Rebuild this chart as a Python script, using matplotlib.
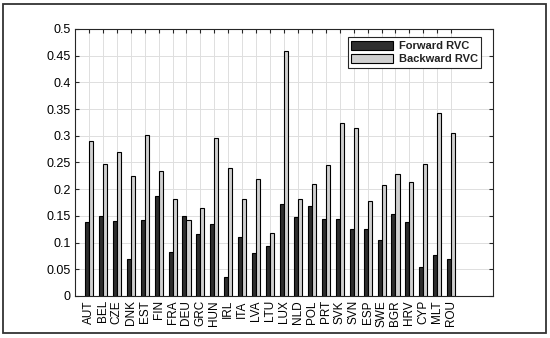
import numpy as np
import matplotlib
matplotlib.use('Agg')
import matplotlib.pyplot as plt
from matplotlib.patches import Rectangle

# === DATA ===
countries = ['AUT', 'BEL', 'CZE', 'DNK', 'EST', 'FIN', 'FRA', 'DEU', 'GRC',
             'HUN', 'IRL', 'ITA', 'LVA', 'LTU', 'LUX', 'NLD', 'POL', 'PRT',
             'SVK', 'SVN', 'ESP', 'SWE', 'BGR', 'HRV', 'CYP', 'MLT', 'ROU']
forward_rvc = [0.138, 0.150, 0.141, 0.069, 0.143, 0.188, 0.082, 0.150, 0.117,
               0.134, 0.035, 0.111, 0.080, 0.093, 0.173, 0.148, 0.168, 0.144,
               0.144, 0.126, 0.126, 0.105, 0.154, 0.139, 0.055, 0.077, 0.069]
backward_rvc = [0.291, 0.247, 0.270, 0.225, 0.301, 0.234, 0.182, 0.142, 0.164,
                0.296, 0.240, 0.181, 0.219, 0.118, 0.459, 0.181, 0.210, 0.246,
                0.324, 0.315, 0.177, 0.207, 0.229, 0.214, 0.248, 0.343, 0.305]
yticks = [0, 0.05, 0.1, 0.15, 0.2, 0.25, 0.3, 0.35, 0.4, 0.45, 0.5]
ytick_labels = ['0', '0.05', '0.1', '0.15', '0.2', '0.25', '0.3', '0.35', '0.4', '0.45', '0.5']

plt.rcParams['font.family'] = ['Liberation Sans', 'DejaVu Sans']

fig = plt.figure(figsize=(5.5, 3.38), dpi=100)
fig.patch.set_facecolor('white')
ax = fig.add_axes([0.1364, 0.1243, 0.76, 0.79])

x = np.arange(1, len(countries) + 1)
w = 0.29
ax.bar(x - w / 2, forward_rvc, width=w, color='#2e2e2e', edgecolor='black',
       linewidth=0.8, label='Forward RVC', zorder=3)
ax.bar(x + w / 2, backward_rvc, width=w, color='#cfcfcf', edgecolor='black',
       linewidth=0.8, label='Backward RVC', zorder=3)

ax.set_xlim(0, 30)
ax.set_ylim(0, 0.5)
ax.set_xticks(x)
ax.set_xticklabels(countries, rotation=90, fontsize=8.5)
ax.set_yticks(yticks)
ax.set_yticklabels(ytick_labels, fontsize=9)
ax.tick_params(direction='in', length=3, width=0.8, colors='#262626',
               top=True, right=True, labelcolor='black', pad=3)
ax.grid(True, color='#dedede', linewidth=0.7, zorder=0)
ax.set_axisbelow(True)
for s in ax.spines.values():
    s.set_color('#262626')
    s.set_linewidth(0.8)

leg = ax.legend(loc='upper right', bbox_to_anchor=(0.985, 0.99),
                fontsize=8, handlelength=3.8, handleheight=1.0,
                handletextpad=0.5, borderpad=0.3, labelspacing=0.2,
                fancybox=False, framealpha=1, edgecolor='#262626')
leg.get_frame().set_linewidth(0.8)
for t in leg.get_texts():
    t.set_fontweight('bold')
    t.set_color('#222222')

# outer figure border
fig.patches.append(Rectangle((0.006, 0.015), 0.986, 0.972, transform=fig.transFigure,
                             fill=False, edgecolor='#333333', linewidth=1.3))

fig.savefig('out.png', dpi=100, facecolor='white')
